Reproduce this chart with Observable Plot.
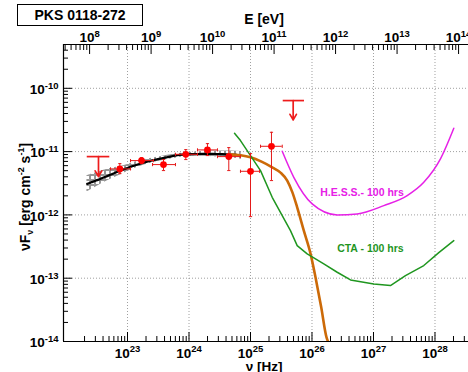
<!DOCTYPE html>
<html><head><meta charset="utf-8">
<script src="https://cdn.jsdelivr.net/npm/d3@7"></script>
<script src="https://cdn.jsdelivr.net/npm/@observablehq/plot@0.6"></script>
<style>body{margin:0;background:#fff;}</style>
</head><body><div id="chart"></div>
<script>
const h = 4.135667e-15; // eV s

// Fermi / multiwavelength points (log10 values)
const ptNuLog   = [22.875, 23.228, 23.585, 23.948, 24.300, 24.647, 25.000, 25.341];
const ptNuLoLog = [22.724, 23.049, 23.407, 23.780, 24.138, 24.463, 24.837, 25.163];
const ptNuHiLog = [23.049, 23.423, 23.780, 24.138, 24.463, 24.837, 25.146, 25.516];
const ptFLog    = [-11.273, -11.142, -11.205, -11.043, -10.973, -11.079, -11.311, -10.916];
const ptFLoLog  = [-11.348, -11.190, -11.300, -11.126, -11.063, -11.300, -12.027, -11.458];
const ptFHiLog  = [-11.190, -11.095, -11.126, -10.969, -10.874, -10.937, -11.032, -10.695];

// upper limits
const ulNuLog   = [22.528, 25.694];
const ulNuLoLog = [22.345, 25.532];
const ulNuHiLog = [22.712, 25.878];
const ulFLog    = [-11.079, -10.194];
const ulTipLog  = [-11.395, -10.499];

// butterfly band (open squares)
const bandNuLog = [22.34, 22.50, 22.70, 22.90, 23.20, 23.50, 23.80, 24.10, 24.40, 24.70, 24.85];
const bandLoLog = [-11.64, -11.55, -11.45, -11.36, -11.235, -11.155, -11.10, -11.075, -11.08, -11.10, -11.12];
const bandHiLog = [-11.38, -11.33, -11.27, -11.23, -11.145, -11.085, -11.035, -11.005, -10.99, -10.99, -11.00];

// black fit line
const fitNuLog = [22.344, 22.56, 22.886, 23.228, 23.59, 23.948, 24.30, 24.675, 24.837];
const fitFLog  = [-11.510, -11.431, -11.300, -11.185, -11.100, -11.043, -11.036, -11.047, -11.058];

// orange model
const modNuLog = [24.642, 24.837, 25.0, 25.179, 25.353, 25.488, 25.597, 25.683, 25.759, 25.867, 25.976, 26.057, 26.15, 26.236, 26.26];
const modFLog  = [-11.044, -11.058, -11.09, -11.158, -11.248, -11.332, -11.458, -11.648, -11.88, -12.248, -12.611, -12.986, -13.46, -13.934, -14.0];

// CTA sensitivity
const ctaNuLog = [24.740, 24.837, 25.0, 25.163, 25.353, 25.516, 25.65, 25.759, 25.922, 26.192, 26.41, 26.626, 27.005, 27.276, 27.52, 27.818, 28.062, 28.306];
const ctaFLog  = [-10.711, -10.826, -11.063, -11.300, -11.722, -12.011, -12.248, -12.485, -12.616, -12.774, -12.906, -13.027, -13.09, -13.117, -12.959, -12.80, -12.595, -12.406];

// H.E.S.S. sensitivity
const hessNuLog = [25.516, 25.704, 26.003, 26.41, 26.735, 27.168, 27.548, 27.818, 28.089, 28.306];
const hessFLog  = [-10.995, -11.406, -11.826, -12.0, -11.984, -11.853, -11.695, -11.485, -11.115, -10.632];

// tick definitions
const xMajorExp = [23, 24, 25, 26, 27, 28];
const xMinorExp = [22, 23, 24, 25, 26, 27, 28];
const eMajorExp = [8, 9, 10, 11, 12, 13, 14];
const eMinorExp = [7, 8, 9, 10, 11, 12, 13, 14];
const yMajorExp = [-14, -13, -12, -11, -10];
const minorMult = [2, 3, 4, 5, 6, 7, 8, 9];

const xDomain = [10 ** 21.959, 10 ** 28.545];
const yDomain = [1e-14, 10 ** -9.308];
const inX = v => v > xDomain[0] && v <= xDomain[1];
const inY = v => v >= yDomain[0] && v <= yDomain[1];

const xMajor = xMajorExp.map(e => 10 ** e).filter(inX);
const xMinor = xMinorExp.flatMap(e => minorMult.map(m => m * 10 ** e)).filter(inX);
const eMajor = eMajorExp.map(e => 10 ** e / h).filter(inX);
const eMinor = eMinorExp.flatMap(e => minorMult.map(m => m * 10 ** e / h)).filter(inX);
const yMajor = yMajorExp.map(e => 10 ** e).filter(inY);
const yMinor = yMajorExp.flatMap(e => minorMult.map(m => m * 10 ** e)).filter(inY);

const pts = ptNuLog.map((v, i) => ({
  nu: 10 ** v, xlo: 10 ** ptNuLoLog[i], xhi: 10 ** ptNuHiLog[i],
  f: 10 ** ptFLog[i], ylo: 10 ** ptFLoLog[i], yhi: 10 ** ptFHiLog[i]
}));
const uls = ulNuLog.map((v, i) => ({
  nu: 10 ** v, xlo: 10 ** ulNuLoLog[i], xhi: 10 ** ulNuHiLog[i],
  f: 10 ** ulFLog[i], tip: 10 ** ulTipLog[i]
}));
const band = bandNuLog.map((v, i) => ({nu: 10 ** v, lo: 10 ** bandLoLog[i], hi: 10 ** bandHiLog[i]}));
const toXY = (a, b) => a.map((v, i) => ({x: 10 ** v, y: 10 ** b[i]}));

const red = "#ff0000";
const hLine = {draw(ctx, size) { const r = Math.sqrt(size / Math.PI); ctx.moveTo(-r, 0); ctx.lineTo(r, 0); }};
const vLine = {draw(ctx, size) { const r = Math.sqrt(size / Math.PI); ctx.moveTo(0, -r); ctx.lineTo(0, r); }};
const fmt = d => "10^" + Math.round(Math.log10(d));
const fmtE = d => "10^" + Math.round(Math.log10(d * h));
const lbl = {fontSize: 13.5, fontWeight: "bold", fill: "black"};
const gridStyle = {stroke: "#888", strokeWidth: 0.8, strokeDasharray: "1,2"};

const chart = Plot.plot({
  width: 468, height: 372,
  marginLeft: 63, marginRight: 0, marginTop: 44, marginBottom: 31,
  style: {fontFamily: "'Liberation Sans', Arial, sans-serif", background: "white"},
  x: {type: "log", domain: xDomain, axis: null},
  y: {type: "log", domain: yDomain, axis: null},
  marks: [
    // grid
    Plot.ruleX(xMajor, {x: d => d, ...gridStyle}),
    Plot.ruleY(yMajor.filter(d => d > 2e-14), {y: d => d, ...gridStyle}),
    // frame lines
    Plot.ruleY([yDomain[0]], {y: d => d, stroke: "black", strokeWidth: 1.2}),
    Plot.ruleY([yDomain[1]], {y: d => d, stroke: "black", strokeWidth: 1.2}),
    Plot.ruleX([xDomain[0]], {x: d => d, stroke: "black", strokeWidth: 1.2}),
    // ticks
    Plot.axisX({anchor: "bottom", ticks: xMajor, tickSize: -9, tickFormat: () => "", label: null}),
    Plot.axisX({anchor: "bottom", ticks: xMinor, tickSize: -5, tickFormat: () => "", label: null}),
    Plot.axisX({anchor: "top", ticks: eMajor, tickSize: -9, tickFormat: () => "", label: null}),
    Plot.axisX({anchor: "top", ticks: eMinor, tickSize: -5, tickFormat: () => "", label: null}),
    Plot.axisY({anchor: "left", ticks: yMajor, tickSize: -9, tickFormat: () => "", label: null}),
    Plot.axisY({anchor: "left", ticks: yMinor, tickSize: -5, tickFormat: () => "", label: null}),
    // tick labels
    Plot.text(xMajor, {x: d => d, frameAnchor: "bottom", lineAnchor: "bottom", dy: 16, text: fmt, textAnchor: "middle", ...lbl}),
    Plot.text(eMajor, {x: d => d, frameAnchor: "top", lineAnchor: "bottom", dy: -2.5, text: fmtE, textAnchor: "middle", ...lbl}),
    Plot.text(yMajor, {y: d => d, frameAnchor: "left", lineAnchor: "middle", dx: -5, dy: 1.5, text: fmt, textAnchor: "end", ...lbl}),
    // butterfly squares
    Plot.areaY(band, {x: "nu", y1: "lo", y2: "hi", fill: "url(#sqpat)", curve: "monotone-x"}),
    // fit line
    Plot.line(toXY(fitNuLog, fitFLog), {x: "x", y: "y", stroke: "black", strokeWidth: 2.2, strokeDasharray: "4,1", curve: "monotone-x"}),
    // model
    Plot.line(toXY(modNuLog, modFLog), {x: "x", y: "y", stroke: "#cc6a08", strokeWidth: 2.6, curve: "monotone-x", clip: true}),
    // sensitivities
    Plot.line(toXY(ctaNuLog, ctaFLog), {x: "x", y: "y", stroke: "#1f961f", strokeWidth: 1.5}),
    Plot.line(toXY(hessNuLog, hessFLog), {x: "x", y: "y", stroke: "#e620e6", strokeWidth: 1.5, curve: "monotone-x"}),
    Plot.text(["H.E.S.S.- 100 hrs"], {x: 10 ** 26.813, y: 10 ** -11.648, text: d => d, fill: "#e620e6", fontSize: 10.5, fontWeight: "bold"}),
    Plot.text(["CTA - 100 hrs"], {x: 10 ** 26.95, y: 10 ** -12.533, text: d => d, fill: "#1f961f", fontSize: 10.5, fontWeight: "bold"}),
    // error bars
    Plot.ruleX(pts, {x: "nu", y1: "ylo", y2: "yhi", stroke: "#e41a1a", strokeWidth: 1}),
    Plot.ruleY(pts, {y: "f", x1: "xlo", x2: "xhi", stroke: "#e41a1a", strokeWidth: 1}),
    Plot.dot(pts, {x: "nu", y: "ylo", symbol: hLine, r: 1.6, stroke: "#e41a1a", strokeWidth: 1}),
    Plot.dot(pts, {x: "nu", y: "yhi", symbol: hLine, r: 1.6, stroke: "#e41a1a", strokeWidth: 1}),
    Plot.dot(pts, {x: "xlo", y: "f", symbol: vLine, r: 1.6, stroke: "#e41a1a", strokeWidth: 1}),
    Plot.dot(pts, {x: "xhi", y: "f", symbol: vLine, r: 1.6, stroke: "#e41a1a", strokeWidth: 1}),
    Plot.dot(pts, {x: "nu", y: "f", r: 3.4, fill: red, stroke: "none"}),
    // upper limits
    Plot.ruleY(uls, {y: "f", x1: "xlo", x2: "xhi", stroke: "#ee1c1c", strokeWidth: 1.7}),
    Plot.arrow(uls, {x1: "nu", x2: "nu", y1: "f", y2: "tip", stroke: "#ee1c1c", strokeWidth: 1.7, headLength: 6})
  ]
});

const svg = d3.select(chart);
// pattern of open squares
const defs = svg.insert("defs", ":first-child");
const pat = defs.append("pattern").attr("id", "sqpat").attr("patternUnits", "userSpaceOnUse")
  .attr("width", 5).attr("height", 5);
pat.append("rect").attr("x", 0.5).attr("y", 0.5).attr("width", 4).attr("height", 4)
  .attr("fill", "white").attr("stroke", "#8c8c8c").attr("stroke-width", 0.9);

// superscripts in tick labels
svg.selectAll("text").each(function() {
  const m = this.textContent.match(/^10\^(-?\d+)$/);
  if (!m) return;
  const t = d3.select(this);
  t.text("");
  t.append("tspan").text("10");
  t.append("tspan").attr("dy", "-0.55em").attr("font-size", 9.5).text(m[1]);
});

// title box
const g = svg.append("g").attr("font-family", "'Liberation Sans', Arial, sans-serif").attr("font-weight", "bold");
g.append("rect").attr("x", 17.5).attr("y", 4.5).attr("width", 125).attr("height", 21)
  .attr("fill", "white").attr("stroke", "black").attr("stroke-width", 1);
g.append("text").attr("x", 80).attr("y", 20).attr("text-anchor", "middle").attr("font-size", 14).text("PKS 0118-272");
// axis titles
g.append("text").attr("x", 264).attr("y", 24).attr("text-anchor", "middle").attr("font-size", 14).text("E [eV]");
g.append("text").attr("x", 264).attr("y", 370.5).attr("text-anchor", "middle").attr("font-size", 13.5).text("ν [Hz]");
const yt = g.append("text").attr("transform", "translate(30,197) rotate(-90)").attr("text-anchor", "middle").attr("font-size", 14);
yt.append("tspan").text("νF");
yt.append("tspan").attr("font-size", 9).attr("dy", "3").text("ν");
yt.append("tspan").attr("dy", "-3").text(" [erg cm");
yt.append("tspan").attr("font-size", 9).attr("dy", "-6").text("-2");
yt.append("tspan").attr("dy", "6").text(" s");
yt.append("tspan").attr("font-size", 9).attr("dy", "-6").text("-1");
yt.append("tspan").attr("dy", "6").text("]");

document.getElementById("chart").appendChild(chart);
</script>
</body></html>
